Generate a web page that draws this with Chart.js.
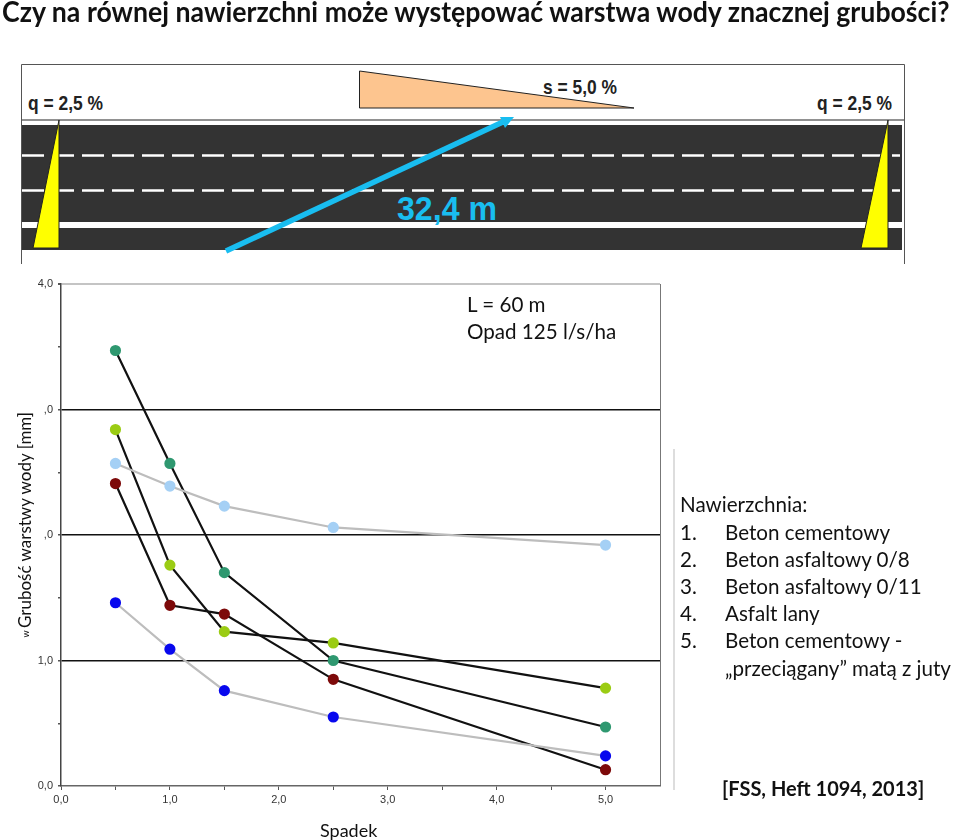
<!DOCTYPE html>
<html lang="pl">
<head>
<meta charset="utf-8">
<title>Grubość warstwy wody</title>
<script src="https://cdn.jsdelivr.net/npm/chart.js@4"></script>
<style>
  html, body { margin: 0; background: #fff; }
  #page { position: relative; width: 960px; height: 840px; overflow: hidden; font-family: Lato, sans-serif; color: #111; }
  #page div { position: absolute; white-space: nowrap; }
  #road, #myChart { position: absolute; left: 0; top: 0; }
  .t { font-size: 20.6px; line-height: 27px; }
  h1 { position: absolute; left: 2px; top: -6px; margin: 0; font-size: 28px; font-weight: 700; white-space: nowrap; transform-origin: 0 0; transform: scaleX(0.953); }
</style>
</head>
<body>
<div id="page">
  <svg id="road" width="960" height="840" font-family="Liberation Sans, Arial, sans-serif">
    <path d="M21.5 264V64.5H904.5V264" fill="none" stroke="#555" stroke-width="1"/>
    <rect x="22" y="125" width="880" height="125" fill="#333"/>
    <rect x="22" y="222" width="880" height="6" fill="#fff"/>
    <path d="M22 120H904" stroke="#222" stroke-width="1"/>
    <path d="M22 155.5H900M22 190.5H900" stroke="#fff" stroke-width="2.5" stroke-dasharray="22 8"/>
    <path d="M59 120L33 248H59Z M888 120L861 248H888Z" fill="#ff0" stroke="#222" stroke-width="1"/>
    <path d="M359.5 71L359.5 108H634Z" fill="#fdc58f" stroke="#222" stroke-width="1"/>
    <text x="543" y="94" font-size="21" font-weight="700" textLength="74" lengthAdjust="spacingAndGlyphs" fill="#222">s = 5,0 %</text>
    <text x="28" y="110" font-size="21" font-weight="700" textLength="75" lengthAdjust="spacingAndGlyphs" fill="#222">q = 2,5 %</text>
    <text x="817" y="110" font-size="21" font-weight="700" textLength="75" lengthAdjust="spacingAndGlyphs" fill="#222">q = 2,5 %</text>
    <path d="M226 251L505 121" stroke="#19bdf0" stroke-width="5.5"/>
    <path d="M514 117L500 117L505 128Z" fill="#19bdf0"/>
    <text x="397" y="220" font-size="34" font-weight="700" fill="#19bdf0" textLength="100" lengthAdjust="spacingAndGlyphs">32,4 m</text>
    <path d="M674 449V790" stroke="#bbb" stroke-width="1"/>
  </svg>
  <canvas id="myChart" width="960" height="840"></canvas>
  <h1>Czy na równej nawierzchni może występować warstwa wody znacznej grubości?</h1>
  <div class="t" style="left:467px;top:291px;">L = 60 m</div>
  <div class="t" style="left:467px;top:318px;">Opad 125 l/s/ha</div>
  <div class="t" style="left:680px;top:491px;">Nawierzchnia:</div>
  <div class="t" style="left:680px;top:519px;">1.</div><div class="t" style="left:725px;top:519px;">Beton cementowy</div>
  <div class="t" style="left:680px;top:546px;">2.</div><div class="t" style="left:725px;top:546px;">Beton asfaltowy 0/8</div>
  <div class="t" style="left:680px;top:573px;">3.</div><div class="t" style="left:725px;top:573px;">Beton asfaltowy 0/11</div>
  <div class="t" style="left:680px;top:600px;">4.</div><div class="t" style="left:725px;top:600px;">Asfalt lany</div>
  <div class="t" style="left:680px;top:627px;">5.</div><div class="t" style="left:725px;top:627px;">Beton cementowy -</div>
  <div class="t" style="left:725px;top:655px;">„przeciągany” matą z juty</div>
  <div class="t" style="left:722px;top:775px;font-weight:700;font-size:20px;">[FSS, Heft 1094, 2013]</div>
  <div style="left:320px;top:819px;font-size:18px;">Spadek</div>
  <div style="left:24px;top:520px;font-size:17px;transform:translate(-50%,-50%) rotate(-90deg);">Grubość warstwy  wody [mm]</div>
  <div style="left:25px;top:634px;font-size:9px;transform:translate(-50%,-50%) rotate(-90deg);">w</div>
</div>
<script>
'use strict';
const slopes = [0.5, 1, 1.5, 2.5, 5];
const betonCementowy = [3.47, 2.57, 1.70, 1.00, 0.47];
const betonAsfaltowy08 = [2.84, 1.76, 1.23, 1.14, 0.78];
const przeciagany = [2.57, 2.39, 2.23, 2.06, 1.92];
const betonAsfaltowy011 = [2.41, 1.44, 1.37, 0.85, 0.13];
const asfaltLany = [1.46, 1.09, 0.76, 0.55, 0.24];
const xTickValues = [0, 1, 2, 3, 4, 5];
const xTickLabels = ['0,0', '1,0', '2,0', '3,0', '4,0', '5,0'];
const yTickValues = [0, 1, 2, 3, 4];
const yTickLabels = ['0,0', '1,0', ',0', ',0', '4,0'];

function series(label, values, pointColor, lineColor) {
  return {
    label: label,
    data: values.map((v, i) => ({ x: slopes[i], y: v })),
    showLine: true,
    borderColor: lineColor,
    borderWidth: 2.2,
    pointBackgroundColor: pointColor,
    pointBorderColor: pointColor,
    pointRadius: 4.5,
  };
}

const data = {
  datasets: [
    series('Beton cementowy - przeciągany', przeciagany, '#a5d0f5', '#bdbdbd'),
    series('Asfalt lany', asfaltLany, '#0808ee', '#bdbdbd'),
    series('Beton cementowy', betonCementowy, '#2f9870', '#111'),
    series('Beton asfaltowy 0/8', betonAsfaltowy08, '#9bcc14', '#111'),
    series('Beton asfaltowy 0/11', betonAsfaltowy011, '#7d0a0a', '#111'),
  ],
};

function gridY(ctx) {
  const v = ctx.tick.value;
  if (v === 4) return '#c4c4c4';
  return yTickValues.includes(v) && v > 0 ? '#111' : 'rgba(0,0,0,0)';
}

const tickFont = { family: 'Liberation Sans', size: 11 };

const config = {
  type: 'scatter',
  data: data,
  options: {
    responsive: false,
    animation: false,
    layout: { padding: { left: 21, top: 284, right: 300, bottom: 24 } },
    plugins: { legend: { display: false }, tooltip: { enabled: false } },
    scales: {
      x: {
        type: 'linear',
        min: 0,
        max: 5.5,
        afterFit: (s) => { s.height = 30; },
        border: { color: '#666', width: 1.5 },
        grid: {
          color: (ctx) => (ctx.tick.value === 5.5 ? '#777' : 'rgba(0,0,0,0)'),
          tickColor: (ctx) => (ctx.tick.value === 5.5 ? 'rgba(0,0,0,0)' : '#555'),
          tickLength: 4,
        },
        ticks: {
          stepSize: 0.5,
          autoSkip: false,
          maxRotation: 0,
          padding: 3,
          color: '#333',
          font: tickFont,
          callback: (v) => {
            const i = xTickValues.indexOf(v);
            return i < 0 ? '' : xTickLabels[i];
          },
        },
      },
      y: {
        min: 0,
        max: 4,
        afterFit: (s) => { s.width = 40; },
        border: { color: '#444', width: 1.5 },
        grid: { color: gridY, lineWidth: (ctx) => (ctx.tick.value === 4 ? 2 : 1.5), tickColor: '#555', tickLength: 3 },
        ticks: {
          stepSize: 0.5,
          autoSkip: false,
          padding: 5,
          color: '#333',
          font: tickFont,
          callback: (v) => {
            const i = yTickValues.indexOf(v);
            return i < 0 ? '' : yTickLabels[i];
          },
        },
      },
    },
  },
};

new Chart(document.getElementById('myChart'), config);
</script>
</body>
</html>
